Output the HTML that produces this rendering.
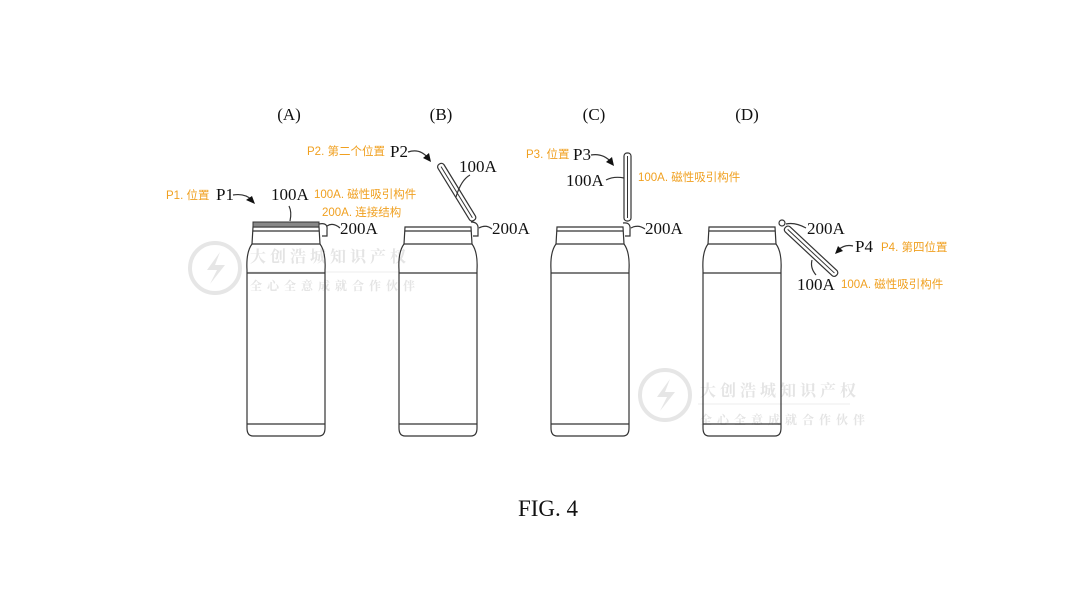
<!DOCTYPE html>
<html><head><meta charset="utf-8"><style>
html,body{margin:0;padding:0;background:#fff;}
svg{display:block;}
.s{fill:none;stroke:#333;stroke-width:1.2;}
.t{font-family:"Liberation Serif",serif;font-size:17px;fill:#111;}
.o{font-family:"Liberation Sans","Noto Sans CJK SC",sans-serif;font-size:11.5px;fill:#f0a020;}
.w{font-family:"Noto Serif CJK SC","Noto Sans CJK SC",serif;fill:#e4e4e4;font-weight:bold;}
</style></head><body>
<svg width="1080" height="605" viewBox="0 0 1080 605" xmlns="http://www.w3.org/2000/svg">
<defs>
<g id="bottle">
<path class="s" d="M-33,227 L33,227 L34,244 L-34,244 Z"/>
<path class="s" d="M-33,231 L33,231"/>
<path class="s" d="M-34,244 Q-40,252 -39,270 L-39,428 Q-39,436 -33,436 L33,436 Q39,436 39,428 L39,270 Q40,252 34,244"/>
<path class="s" d="M-39,273 L39,273 M-39,424 L39,424"/>
</g>
<g id="wm">
<circle cx="0" cy="0" r="25" fill="none" stroke="#e6e6e6" stroke-width="4"/>
<path d="M5,-16 L-8,2 L2,2 L-5,16 L10,-3 L0,-3 Z" fill="#e6e6e6"/>
</g>
</defs>
<use href="#wm" x="215" y="268"/>
<text class="w" x="250" y="262" font-size="16" letter-spacing="4">大创浩城知识产权</text>
<line x1="248" y1="272" x2="400" y2="272" stroke="#ececec"/>
<text class="w" x="250" y="290" font-size="12" letter-spacing="5">全心全意成就合作伙伴</text>
<use href="#wm" x="665" y="395"/>
<text class="w" x="700" y="396" font-size="16" letter-spacing="4">大创浩城知识产权</text>
<line x1="698" y1="404" x2="850" y2="404" stroke="#ececec"/>
<text class="w" x="700" y="424" font-size="12" letter-spacing="5">全心全意成就合作伙伴</text>

<text class="t" x="289" y="120" text-anchor="middle">(A)</text>
<text class="t" x="441" y="120" text-anchor="middle">(B)</text>
<text class="t" x="594" y="120" text-anchor="middle">(C)</text>
<text class="t" x="747" y="120" text-anchor="middle">(D)</text>

<!-- A -->
<use href="#bottle" x="286" y="0"/>
<rect x="253" y="222" width="66" height="5" fill="#888" stroke="#333"/>
<path class="s" d="M319,224 Q328,222 327,230 L327,236 L322,236"/>
<path class="s" d="M327,226 Q333,222 340,228"/>
<path class="s" d="M290,221 Q292,212 289,206"/>
<text class="o" x="166" y="199">P1. 位置</text>
<text class="t" x="216" y="200">P1</text>
<path class="s" d="M233,195 Q245,193 252,200"/><path d="M255,204 L246,200 L252,196 Z" fill="#111"/>
<text class="t" x="271" y="200">100A</text>
<text class="o" x="314" y="198">100A. 磁性吸引构件</text>
<text class="o" x="322" y="216">200A. 连接结构</text>
<text class="t" x="340" y="234">200A</text>

<!-- B -->
<use href="#bottle" x="438" y="0"/>
<g transform="translate(475,222) rotate(-31.5)">
<rect x="-3.5" y="-68" width="7" height="66" rx="3" fill="#fff" stroke="#333" stroke-width="1.2"/>
<line x1="0" y1="-65" x2="0" y2="-5" stroke="#333"/>
</g>
<path class="s" d="M471,222 Q479,222 478,230 L478,236 L473,236"/>
<path class="s" d="M479,228 Q486,224 492,229"/>
<path class="s" d="M456,197 Q461,180 470,175"/>
<text class="o" x="307" y="155">P2. 第二个位置</text>
<text class="t" x="390" y="157">P2</text>
<path class="s" d="M408,152 Q420,148 428,158"/><path d="M431,162 L423,158 L429,153 Z" fill="#111"/>
<text class="t" x="459" y="172">100A</text>
<text class="t" x="492" y="234">200A</text>

<!-- C -->
<use href="#bottle" x="590" y="0"/>
<rect x="624" y="153" width="7" height="68" rx="3" fill="#fff" stroke="#333" stroke-width="1.2"/>
<line x1="627.5" y1="156" x2="627.5" y2="218" stroke="#333"/>
<path class="s" d="M623,223 Q631,222 630,230 L630,236 L625,236"/>
<path class="s" d="M631,228 Q638,224 645,229"/>
<path class="s" d="M606,180 Q614,176 624,178"/>
<text class="o" x="526" y="158">P3. 位置</text>
<text class="t" x="573" y="160">P3</text>
<path class="s" d="M591,155 Q603,153 611,162"/><path d="M614,166 L606,162 L612,157 Z" fill="#111"/>
<text class="t" x="566" y="186">100A</text>
<text class="o" x="638" y="181">100A. 磁性吸引构件</text>
<text class="t" x="645" y="234">200A</text>

<!-- D -->
<use href="#bottle" x="742" y="0"/>
<g transform="translate(784,226) rotate(43)">
<rect x="2" y="-3.5" width="70" height="7" rx="3" fill="#fff" stroke="#333" stroke-width="1.2"/>
<line x1="5" y1="0" x2="69" y2="0" stroke="#333"/>
</g>
<circle cx="782" cy="223" r="3" class="s"/>
<path class="s" d="M786,224 Q795,222 806,228"/>
<path class="s" d="M816,275 Q810,268 812,260"/>
<text class="t" x="807" y="234">200A</text>
<path class="s" d="M853,246 Q845,244 838,250"/><path d="M835,254 L838,246 L843,251 Z" fill="#111"/>
<text class="t" x="855" y="252">P4</text>
<text class="o" x="881" y="251">P4. 第四位置</text>
<text class="t" x="797" y="290">100A</text>
<text class="o" x="841" y="288">100A. 磁性吸引构件</text>

<text x="548" y="516" text-anchor="middle" font-family="Liberation Serif, serif" font-size="23" fill="#111">FIG. 4</text>
</svg>
</body></html>
